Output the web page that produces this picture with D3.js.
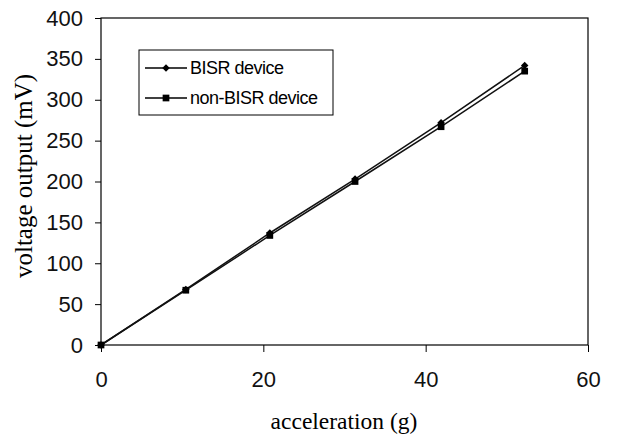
<!DOCTYPE html>
<html>
<head>
<meta charset="utf-8">
<script src="https://cdn.jsdelivr.net/npm/d3@7"></script>
<style>
  body { margin: 0; background: #fff; }
  svg { display: block; }
  .tick text { font-family: "Liberation Sans", Arial, sans-serif; font-size: 22px; fill: #111; }
  .tick line { stroke: #000; }
</style>
</head>
<body>
<svg id="chart" width="626" height="435"></svg>
<script>
// acceleration (g)
const accel = [0, 10.45, 20.8, 31.3, 41.9, 52.2];
const bisr = [0, 68, 137, 203, 272, 342];
const nonBisr = [0, 67, 134, 200, 267, 335];
const xTicks = [0, 20, 40, 60];
const yTicks = [0, 50, 100, 150, 200, 250, 300, 350, 400];
const seriesNames = ['BISR device', 'non-BISR device'];

const plotLeft = 101, plotRight = 588, plotTop = 18, plotBottom = 345;

const svg = d3.select('#chart');
const x = d3.scaleLinear().domain([0, 60]).range([plotLeft, plotRight]);
const y = d3.scaleLinear().domain([0, 400]).range([plotBottom, plotTop]);

// frame
svg.append('rect')
    .attr('x', plotLeft)
    .attr('y', plotTop)
    .attr('width', plotRight - plotLeft)
    .attr('height', plotBottom - plotTop)
    .attr('fill', 'none')
    .attr('stroke', '#000')
    .attr('stroke-width', 1.2);

const yAxis = svg.append('g')
    .attr('transform', `translate(${plotLeft},0)`)
    .call(d3.axisLeft(y).tickValues(yTicks).tickSize(6).tickPadding(12));
yAxis.select('.domain').remove();

const xAxis = svg.append('g')
    .attr('transform', `translate(0,${plotBottom})`)
    .call(d3.axisBottom(x).tickValues(xTicks).tickSize(7).tickPadding(19));
xAxis.select('.domain').remove();

// axis titles
svg.append('text')
    .attr('x', 344)
    .attr('y', 429)
    .attr('text-anchor', 'middle')
    .style('font-family', '"Liberation Serif", "Times New Roman", serif')
    .style('font-size', '23.5px')
    .text('acceleration (g)');

svg.append('text')
    .attr('transform', `translate(32,176) rotate(-90)`)
    .attr('text-anchor', 'middle')
    .style('font-family', '"Liberation Serif", "Times New Roman", serif')
    .style('font-size', '25px')
    .text('voltage output (mV)');

// series
const line = d3.line().x(d => x(d[0])).y(d => y(d[1]));
const series = [
    { name: seriesNames[0], values: bisr, shape: d3.symbolDiamond2, size: 36 },
    { name: seriesNames[1], values: nonBisr, shape: d3.symbolSquare, size: 45 }
];

series.forEach(s => {
    const pts = accel.map((a, i) => [a, s.values[i]]);
    svg.append('path')
        .attr('d', line(pts))
        .attr('fill', 'none')
        .attr('stroke', '#111')
        .attr('stroke-width', 1.5);
    svg.selectAll(null)
        .data(pts)
        .enter()
        .append('path')
        .attr('d', d3.symbol().type(s.shape).size(s.size))
        .attr('transform', d => `translate(${x(d[0])},${y(d[1])})`)
        .attr('fill', '#000');
});

// legend
const legend = svg.append('g').attr('transform', 'translate(139,50)');
legend.append('rect')
    .attr('width', 194)
    .attr('height', 65)
    .attr('fill', '#fff')
    .attr('stroke', '#000')
    .attr('stroke-width', 1);

series.forEach((s, i) => {
    const ly = 18 + i * 30;
    legend.append('line')
        .attr('x1', 6).attr('x2', 48)
        .attr('y1', ly).attr('y2', ly)
        .attr('stroke', '#000')
        .attr('stroke-width', 1.5);
    legend.append('path')
        .attr('d', d3.symbol().type(s.shape).size(s.size))
        .attr('transform', `translate(27,${ly})`)
        .attr('fill', '#000');
    legend.append('text')
        .attr('x', 51)
        .attr('y', ly + 6)
        .style('font-family', '"Liberation Sans", Arial, sans-serif')
        .style('font-size', '18px')
        .style('letter-spacing', '-0.5px')
        .text(s.name);
});
</script>
</body>
</html>
